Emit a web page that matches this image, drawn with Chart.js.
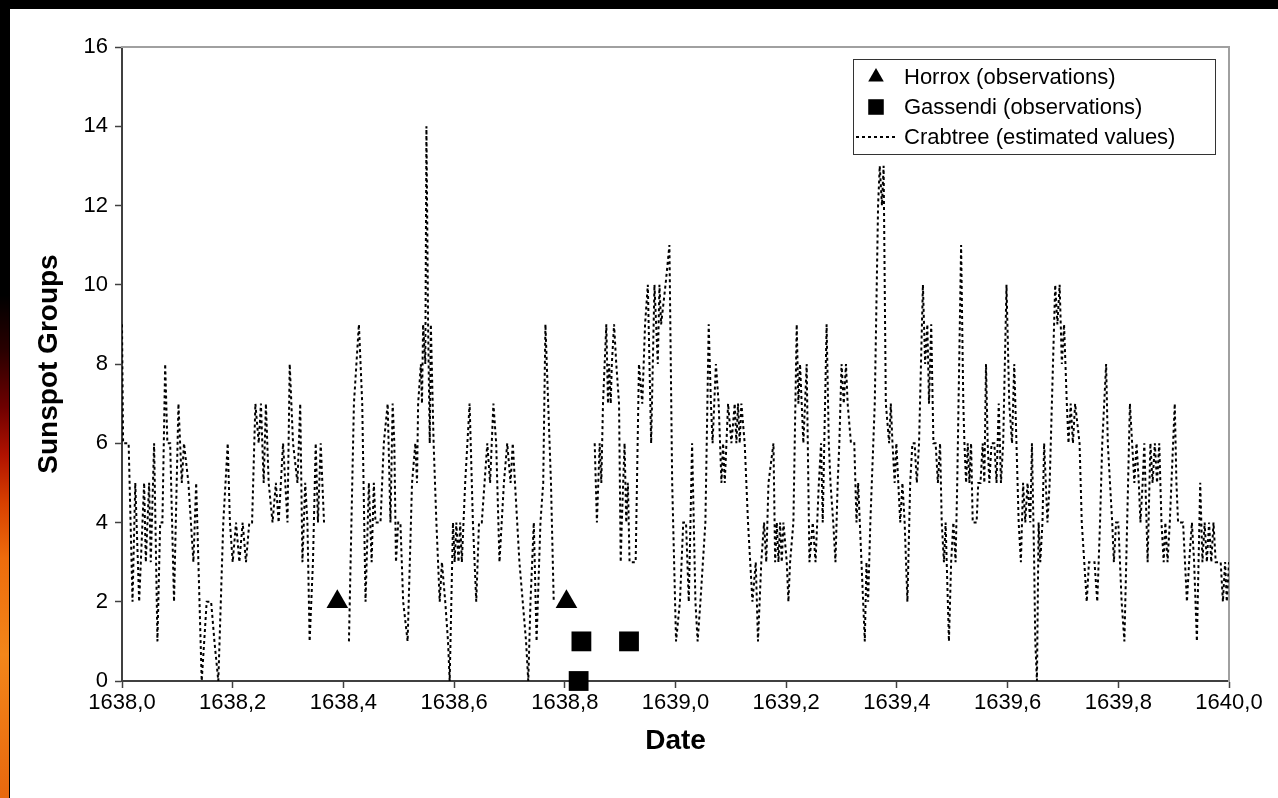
<!DOCTYPE html>
<html>
<head>
<meta charset="utf-8">
<title>Sunspot Groups 1638-1640</title>
<script src="https://cdn.jsdelivr.net/npm/chart.js@4/dist/chart.umd.min.js"></script>
<style>
  html, body { margin: 0; padding: 0; background: #000; }
  body { width: 1278px; height: 798px; position: relative; overflow: hidden;
         font-family: "Liberation Sans", Arial, sans-serif; }
  #flame { position: absolute; left: 0; top: 0; width: 9px; height: 798px;
           background: linear-gradient(to bottom, #000 0%, #000 37%, #2a0000 44%, #6e0000 51%,
             #b01200 57%, #d84000 63%, #ee6c0c 70%, #f3861a 82%, #e8680e 100%); }
  #panel { position: absolute; left: 10px; top: 9px; right: 0; bottom: 0; background: #fff; }
  #chart { position: absolute; left: 0; top: 0; }
  #legend { position: absolute; left: 853px; top: 59px; width: 363px; height: 96px;
            box-sizing: border-box; border: 1.5px solid #333; background: #fff;
            padding: 2px 0 0 0; font-size: 22px; color: #000; }
  .legend-row { display: flex; align-items: center; height: 30px; }
  .legend-row canvas { margin-right: 4px; }
</style>
</head>
<body>
<div id="flame"></div>
<div id="panel"></div>
<canvas id="chart" width="1278" height="798"></canvas>
<div id="legend"></div>
<script>
// Horrox and Gassendi observations
const horroxDates  = [1638.389, 1638.803];
const horroxGroups = [2, 2];
const gassendiDates  = [1638.830, 1638.916, 1638.825];
const gassendiGroups = [1, 1, 0];

// Crabtree estimated values (null = no estimate, line breaks there)
const crabtreeDates = [
  1638.000, 1638.002, 1638.012, 1638.019, 1638.024, 1638.031, 1638.034, 1638.040, 1638.043, 1638.049,
  1638.052, 1638.058, 1638.064, 1638.069, 1638.073, 1638.078, 1638.082, 1638.087, 1638.094, 1638.102,
  1638.108, 1638.112, 1638.120, 1638.129, 1638.134, 1638.138, 1638.144, 1638.153, 1638.161, 1638.167,
  1638.174, 1638.183, 1638.191, 1638.195, 1638.200, 1638.206, 1638.212, 1638.218, 1638.224, 1638.230,
  1638.235, 1638.241, 1638.247, 1638.251, 1638.256, 1638.260, 1638.265, 1638.272, 1638.278, 1638.283,
  1638.287, 1638.291, 1638.299, 1638.303, 1638.309, 1638.317, 1638.322, 1638.326, 1638.331, 1638.335,
  1638.339, 1638.345, 1638.350, 1638.354, 1638.359, 1638.365, 1638.385,
  1638.410, 1638.419, 1638.428, 1638.434, 1638.440, 1638.446, 1638.451, 1638.455, 1638.458, 1638.467,
  1638.473, 1638.480, 1638.485, 1638.489, 1638.492, 1638.495, 1638.499, 1638.503, 1638.508, 1638.516,
  1638.524, 1638.530, 1638.533, 1638.535, 1638.540, 1638.542, 1638.544, 1638.548, 1638.550, 1638.553,
  1638.556, 1638.558, 1638.563, 1638.568, 1638.571, 1638.574, 1638.578, 1638.584, 1638.589, 1638.592,
  1638.598, 1638.601, 1638.604, 1638.608, 1638.611, 1638.614, 1638.620, 1638.628, 1638.634, 1638.640,
  1638.645, 1638.650, 1638.660, 1638.665, 1638.671, 1638.676, 1638.682, 1638.690, 1638.696, 1638.702,
  1638.706, 1638.710, 1638.718, 1638.724, 1638.730, 1638.734, 1638.738, 1638.744, 1638.749, 1638.756,
  1638.761, 1638.765, 1638.770, 1638.775, 1638.780, 1638.815,
  1638.854, 1638.858, 1638.863, 1638.866, 1638.869, 1638.875, 1638.878, 1638.880, 1638.883, 1638.885,
  1638.889, 1638.893, 1638.898, 1638.901, 1638.903, 1638.908, 1638.911, 1638.914, 1638.917, 1638.920,
  1638.928, 1638.934, 1638.940, 1638.945, 1638.950, 1638.953, 1638.956, 1638.962, 1638.968, 1638.971,
  1638.974, 1638.982, 1638.989, 1638.994, 1639.001, 1639.008, 1639.014, 1639.019, 1639.024, 1639.030,
  1639.036, 1639.040, 1639.045, 1639.054, 1639.060, 1639.064, 1639.067, 1639.073, 1639.078, 1639.083,
  1639.086, 1639.089, 1639.095, 1639.101, 1639.107, 1639.110, 1639.113, 1639.116, 1639.119, 1639.125,
  1639.131, 1639.135, 1639.139, 1639.145, 1639.149, 1639.155, 1639.160, 1639.164, 1639.168, 1639.177,
  1639.180, 1639.183, 1639.186, 1639.189, 1639.192, 1639.195, 1639.201, 1639.204, 1639.207, 1639.213,
  1639.219, 1639.222, 1639.225, 1639.231, 1639.237, 1639.242, 1639.248, 1639.253, 1639.259, 1639.263,
  1639.266, 1639.273, 1639.277, 1639.280, 1639.285, 1639.289, 1639.293, 1639.296, 1639.300, 1639.304,
  1639.308, 1639.311, 1639.317, 1639.323, 1639.327, 1639.330, 1639.336, 1639.342, 1639.345, 1639.348,
  1639.352, 1639.360, 1639.366, 1639.369, 1639.373, 1639.376, 1639.380, 1639.386, 1639.389, 1639.392,
  1639.396, 1639.399, 1639.406, 1639.410, 1639.414, 1639.419, 1639.424, 1639.428, 1639.432, 1639.436,
  1639.440, 1639.447, 1639.451, 1639.455, 1639.458, 1639.462, 1639.466, 1639.470, 1639.474, 1639.478,
  1639.481, 1639.485, 1639.488, 1639.494, 1639.498, 1639.502, 1639.506, 1639.509, 1639.516, 1639.520,
  1639.522, 1639.525, 1639.528, 1639.531, 1639.534, 1639.537, 1639.540, 1639.544, 1639.547, 1639.551,
  1639.555, 1639.558, 1639.561, 1639.564, 1639.567, 1639.571, 1639.576, 1639.580, 1639.584, 1639.588,
  1639.592, 1639.598, 1639.603, 1639.608, 1639.612, 1639.616, 1639.620, 1639.624, 1639.628, 1639.632,
  1639.636, 1639.641, 1639.644, 1639.648, 1639.650, 1639.653, 1639.656, 1639.659, 1639.663, 1639.666,
  1639.669, 1639.672, 1639.676, 1639.680, 1639.686, 1639.690, 1639.694, 1639.698, 1639.702, 1639.707,
  1639.710, 1639.714, 1639.718, 1639.722, 1639.730, 1639.734, 1639.743, 1639.747, 1639.751, 1639.757,
  1639.762, 1639.767, 1639.771, 1639.778, 1639.781, 1639.785, 1639.789, 1639.792, 1639.796, 1639.800,
  1639.806, 1639.811, 1639.816, 1639.821, 1639.825, 1639.829, 1639.833, 1639.837, 1639.840, 1639.844,
  1639.847, 1639.853, 1639.858, 1639.862, 1639.866, 1639.870, 1639.874, 1639.878, 1639.882, 1639.885,
  1639.889, 1639.893, 1639.896, 1639.902, 1639.905, 1639.908, 1639.913, 1639.917, 1639.924, 1639.928,
  1639.933, 1639.937, 1639.942, 1639.948, 1639.952, 1639.956, 1639.960, 1639.964, 1639.968, 1639.972,
  1639.976, 1639.985, 1639.989, 1639.993, 1639.996, 1640.000
];
const crabtreeGroups = [
  9, 6, 6, 2, 5, 2, 3, 5, 3, 5,
  3, 6, 1, 4, 4, 8, 6, 6, 2, 7,
  5, 6, 5, 3, 5, 3, 0, 2, 2, 1,
  0, 4, 6, 4, 3, 4, 3, 4, 3, 4,
  4, 7, 6, 7, 5, 7, 5, 4, 5, 4,
  5, 6, 4, 8, 6, 5, 7, 3, 5, 4,
  1, 3, 6, 4, 6, 4, null,
  1, 7, 9, 7, 2, 5, 3, 5, 4, 4,
  6, 7, 4, 7, 6, 3, 4, 4, 2, 1,
  5, 6, 5, 7, 8, 7, 9, 8, 14, 9,
  6, 9, 6, 4, 3, 2, 3, 2, 1, 0,
  4, 3, 4, 3, 4, 3, 5, 7, 4, 2,
  4, 4, 6, 5, 7, 6, 3, 5, 6, 5,
  6, 5, 3, 2, 1, 0, 2, 4, 1, 4,
  5, 9, 7, 5, 2, null,
  6, 4, 6, 5, 7, 9, 7, 8, 7, 8,
  9, 8, 7, 3, 4, 6, 4, 5, 3, 3,
  3, 8, 7, 9, 10, 8, 6, 10, 8, 10,
  9, 10, 11, 5, 1, 2, 4, 4, 2, 6,
  2, 1, 2, 4, 9, 7, 6, 8, 7, 5,
  6, 5, 7, 6, 7, 6, 7, 6, 7, 6,
  4, 3, 2, 3, 1, 3, 4, 3, 5, 6,
  3, 4, 3, 4, 3, 4, 3, 2, 3, 4,
  9, 7, 8, 6, 8, 3, 4, 3, 5, 6,
  4, 9, 6, 5, 4, 3, 5, 6, 8, 7,
  8, 7, 6, 6, 4, 5, 3, 1, 3, 2,
  4, 7, 12, 13, 12, 13, 7, 6, 7, 6,
  5, 6, 4, 5, 4, 2, 5, 6, 6, 5,
  6, 10, 8, 9, 7, 9, 6, 6, 5, 6,
  4, 3, 4, 1, 3, 4, 3, 5, 11, 7,
  6, 5, 6, 5, 6, 4, 4, 4, 5, 5,
  6, 5, 8, 6, 5, 6, 6, 5, 7, 5,
  6, 10, 7, 6, 8, 6, 4, 3, 5, 4,
  5, 4, 6, 3, 1, 0, 4, 3, 4, 6,
  5, 4, 5, 7, 10, 9, 10, 8, 9, 7,
  6, 7, 6, 7, 6, 4, 2, 3, 3, 3,
  2, 4, 6, 8, 6, 5, 4, 3, 4, 4,
  2, 1, 4, 7, 6, 5, 6, 5, 4, 5,
  6, 3, 6, 5, 6, 5, 6, 4, 3, 4,
  3, 4, 5, 7, 5, 4, 4, 4, 2, 3,
  4, 3, 1, 5, 3, 4, 3, 4, 3, 4,
  3, 3, 2, 3, 2, 3
];

const yearMin = 1638, yearMax = 1640;
const groupMin = 0, groupMax = 16;

const FONT = '"Liberation Sans", Arial, sans-serif';
Chart.defaults.font.family = FONT;
Chart.defaults.color = '#000';

const toPoints = (xs, ys) => xs.map((x, k) => ({ x, y: ys[k] }));

const axisColor  = '#404040';
const frameColor = '#a0a0a0';
const tickFont   = { size: 22 };
const titleFont  = { size: 28, weight: 'bold' };

const chart = new Chart(document.getElementById('chart'), {
  type: 'scatter',
  data: {
    datasets: [
      {
        label: 'Horrox (observations)',
        data: toPoints(horroxDates, horroxGroups),
        pointStyle: 'triangle',
        pointRadius: 12.5,
        backgroundColor: '#000',
        borderColor: '#000',
        borderWidth: 0,
        legendRadius: 9,
        clip: false,
        order: 0,
      },
      {
        label: 'Gassendi (observations)',
        data: toPoints(gassendiDates, gassendiGroups),
        pointStyle: 'rect',
        pointRadius: 14,
        backgroundColor: '#000',
        borderColor: '#000',
        borderWidth: 0,
        legendRadius: 11,
        clip: false,
        order: 0,
      },
      {
        label: 'Crabtree (estimated values)',
        data: toPoints(crabtreeDates, crabtreeGroups),
        showLine: true,
        spanGaps: false,
        borderColor: '#000',
        borderWidth: 2,
        borderDash: [3, 3],
        pointRadius: 0,
        tension: 0,
        fill: false,
        order: 1,
      },
    ],
  },
  options: {
    responsive: false,
    animation: false,
    events: [],
    layout: { padding: 0 },
    plugins: { legend: { display: false }, tooltip: { enabled: false } },
    scales: {
      x: {
        type: 'linear', position: 'bottom', min: yearMin, max: yearMax,
        ticks: {
          stepSize: 0.2, autoSkip: false, maxRotation: 0, padding: 2, font: tickFont, color: '#000',
          callback: v => v.toFixed(1).replace('.', ','),
        },
        grid: { drawOnChartArea: false, color: axisColor, tickLength: 7, tickWidth: 1.5 },
        border: { color: axisColor, width: 2 },
        title: { display: true, text: 'Date', font: titleFont, color: '#000', padding: { top: 0, bottom: 40 } },
        afterFit: s => { s.height = 117; },
      },
      y: {
        type: 'linear', position: 'left', min: groupMin, max: groupMax,
        ticks: { stepSize: 2, padding: 7, font: tickFont, color: '#000' },
        grid: { drawOnChartArea: false, color: axisColor, tickLength: 7, tickWidth: 1.5 },
        border: { color: axisColor, width: 2 },
        title: { display: true, text: 'Sunspot Groups', font: titleFont, color: '#000', padding: { top: 32, bottom: 0 } },
        afterFit: s => { s.width = 122; },
      },
      xTop: {
        type: 'linear', position: 'top', min: yearMin, max: yearMax,
        ticks: { display: false }, grid: { display: false },
        border: { color: frameColor, width: 2 },
        afterFit: s => { s.height = 47; },
      },
      yRight: {
        type: 'linear', position: 'right', min: groupMin, max: groupMax,
        ticks: { display: false }, grid: { display: false },
        border: { color: frameColor, width: 2 },
        afterFit: s => { s.width = 49; },
      },
    },
  },
});

// legend built from the datasets, drawn with the same point styles and dash
const legendBox = document.getElementById('legend');
chart.data.datasets.forEach(ds => {
  const row = document.createElement('div');
  row.className = 'legend-row';
  const sw = document.createElement('canvas');
  sw.width = 46; sw.height = 28;
  const c = sw.getContext('2d');
  if (ds.showLine) {
    c.strokeStyle = ds.borderColor;
    c.lineWidth = ds.borderWidth;
    c.setLineDash(ds.borderDash);
    c.beginPath(); c.moveTo(2, 14); c.lineTo(44, 14); c.stroke();
  } else {
    c.fillStyle = ds.backgroundColor;
    c.strokeStyle = ds.borderColor;
    Chart.helpers.drawPoint(c, { pointStyle: ds.pointStyle, radius: ds.legendRadius, borderWidth: 0, rotation: 0 }, 22, 14);
  }
  const txt = document.createElement('span');
  txt.textContent = ds.label;
  row.appendChild(sw);
  row.appendChild(txt);
  legendBox.appendChild(row);
});
</script>
</body>
</html>
